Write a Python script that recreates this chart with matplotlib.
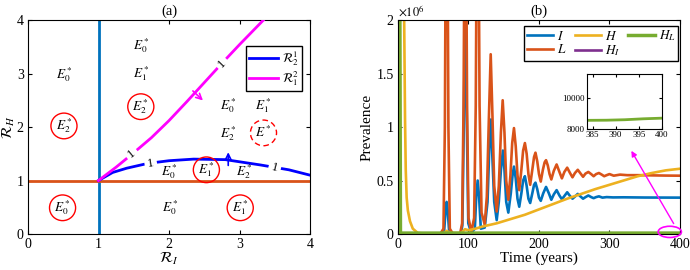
import matplotlib
matplotlib.use('Agg')
import matplotlib.pyplot as plt
from matplotlib.patches import Ellipse

plt.rcParams['font.family'] = ['Liberation Serif', 'DejaVu Serif']
plt.rcParams['mathtext.fontset'] = 'stix'

# Colors (MATLAB defaults)
C_I = '#0072BD'
C_L = '#D95319'
C_H = '#EDB120'
C_HI = '#7E2F8E'
C_HL = '#77AC30'
MAG = '#FF00FF'
BLUE = '#0000FF'

# ---- panel (a): threshold curves ----
mag_x = [1.0, 1.25, 1.5, 1.75, 2.0, 2.25, 2.5, 2.75, 3.0, 3.34]
mag_y = [1.0, 1.25, 1.52, 1.80, 2.12, 2.47, 2.83, 3.19, 3.54, 4.0]
blue_x = [1.0, 1.2, 1.4, 1.7, 2.0, 2.35, 2.8, 3.3, 3.7, 4.0]
blue_y = [1.0, 1.15, 1.23, 1.32, 1.37, 1.40, 1.39, 1.29, 1.20, 1.10]

plain_labels = [(1.61, 3.53, '$E_0^*$'), (1.61, 2.99, '$E_1^*$'), (0.51, 2.97, '$E_0^*$'),
                (2.85, 2.39, '$E_0^*$'), (3.34, 2.39, '$E_1^*$'), (2.85, 1.87, '$E_2^*$'),
                (2.01, 1.16, '$E_0^*$'), (3.07, 1.16, '$E_2^*$'), (2.02, 0.49, '$E_0^*$')]
circled_labels = [(1.60, 2.38, '$E_2^*$'), (0.51, 2.02, '$E_2^*$'), (2.53, 1.20, '$E_1^*$'),
                  (0.49, 0.49, '$E_0^*$'), (3.01, 0.49, '$E_1^*$')]
dashed_label = (3.34, 1.89, '$E^*$')

# contour-like "1" labels: x, y, angle
mag_marks = [(1.47, 1.50, 39), (2.75, 3.19, 46)]
blue_marks = [(1.74, 1.325, 9), (3.5, 1.245, -14)]

# ---- panel (b): prevalence (units of 1e6) ----
L_t = [0, 60, 64.5, 66.5, 67.6, 70.4, 71.5, 73.5, 78, 88, 91, 93, 94.2, 96.8, 98, 100, 104,
       108, 110.3, 111.5, 114.5, 115.7, 118.5, 123, 126, 129, 131.5, 134, 136.5, 140,
       143, 146, 148.5, 151, 153.5, 156.5, 159.5, 162, 164.5, 167, 169.5, 172,
       175, 177.5, 180, 182.5, 185, 187.5, 190.5, 193, 195, 197.5, 200, 202.5,
       205.5, 208, 210, 212.5, 215, 217.5, 221, 225, 229, 232.5, 236, 240, 244, 247.5,
       251, 255, 259, 262.5, 266, 270, 274, 277.5, 281, 285, 289, 292.5, 296, 300, 306,
       315, 325, 340, 360, 380, 400]
L_v = [0.0, 0.0, 0.05, 1.0, 2.6, 2.6, 1.0, 0.05, 0.0, 0.0, 0.1, 1.2, 2.6, 2.6, 1.2, 0.15, 0.02,
       0.15, 1.2, 2.6, 2.6, 1.2, 0.2, 0.09, 0.35, 1.1, 1.68, 1.1, 0.45, 0.21,
       0.45, 0.95, 1.25, 0.95, 0.5, 0.32, 0.55, 0.85, 0.99, 0.82, 0.55, 0.41,
       0.6, 0.78, 0.85, 0.75, 0.56, 0.46, 0.6, 0.72, 0.76, 0.68, 0.56, 0.49,
       0.6, 0.67, 0.69, 0.64, 0.56, 0.51, 0.59, 0.65, 0.58, 0.52, 0.58, 0.62, 0.57, 0.53,
       0.57, 0.60, 0.565, 0.535, 0.565, 0.58, 0.56, 0.54, 0.56, 0.57, 0.555, 0.54, 0.55, 0.56, 0.545,
       0.555, 0.55, 0.55, 0.548, 0.546, 0.545]

I_t = [0, 62, 65.5, 67.5, 69, 70.5, 72.5, 80, 89, 91.3, 93.3, 95.5, 97.7, 99.7, 104,
       109, 111, 113, 115, 117.5, 123, 127, 129.5, 131.8, 134, 136.5, 140,
       143, 146, 148.8, 151, 153.5, 156.5, 160, 162.5, 164.5, 167, 169.5, 172,
       175, 177.5, 180, 182.5, 185, 187.5, 190.5, 193, 195, 197.5, 200, 202.5,
       206, 210, 214, 217.5, 221, 225, 229, 232.5, 236, 240, 244, 247.5,
       251, 255, 259, 262.5, 266, 270, 274, 277.5, 281, 285, 290, 296, 305, 320, 350, 400]
I_v = [0.0, 0.0, 0.03, 0.22, 0.3, 0.22, 0.03, 0.0, 0.0, 0.08, 1.0, 2.3, 1.0, 0.1, 0.01,
       0.05, 0.35, 0.5, 0.35, 0.05, 0.06, 0.3, 0.8, 1.07, 0.7, 0.3, 0.13,
       0.3, 0.6, 0.78, 0.6, 0.3, 0.2, 0.38, 0.55, 0.63, 0.52, 0.33, 0.255,
       0.38, 0.5, 0.54, 0.45, 0.33, 0.29, 0.38, 0.46, 0.48, 0.42, 0.34, 0.31,
       0.38, 0.44, 0.38, 0.32, 0.37, 0.41, 0.36, 0.325, 0.355, 0.39, 0.355, 0.33,
       0.35, 0.375, 0.35, 0.33, 0.345, 0.36, 0.345, 0.335, 0.345, 0.352, 0.34, 0.345, 0.342, 0.343, 0.341, 0.34]

H_t = [0, 8.5, 9.3, 10, 11, 12.3, 14, 17, 21, 28, 40, 64, 69, 74, 90, 95, 100,
       110, 120, 140, 160, 180, 200, 220, 240, 260, 280, 300, 320, 340, 360, 380, 400]
H_v = [2.5, 2.2, 1.6, 1.07, 0.6, 0.34, 0.22, 0.12, 0.05, 0.01, 0.003, 0.003, 0.03, 0.01, 0.01, 0.045, 0.035,
       0.05, 0.07, 0.10, 0.14, 0.18, 0.23, 0.28, 0.33, 0.375, 0.42, 0.46, 0.50, 0.54, 0.57, 0.595, 0.61]

HI_t = [0, 0.8, 400]
HI_v = [2.5, 0.0, 0.0]

HL_t = [0, 2.5, 3.5, 400]
HL_v = [2.5, 2.5, 0.0086, 0.0087]

# inset (raw counts)
ins_t = [383, 388, 392, 396, 400]
ins_v = [8550, 8560, 8590, 8650, 8690]

fig = plt.figure(figsize=(6.9, 2.7), dpi=100)
ax1 = fig.add_axes([0.0406, 0.1333, 0.4087, 0.7926])
ax2 = fig.add_axes([0.5768, 0.1333, 0.4087, 0.7926])

# ---------------- panel (a) ----------------
ax1.plot([1, 1], [0, 4], color=C_I, lw=2, zorder=2)
ax1.plot([0, 4], [1, 1], color=C_L, lw=2, zorder=2)
lb, = ax1.plot(blue_x, blue_y, color=BLUE, lw=2, zorder=3, label=r'$\mathcal{R}_2^1$')
lm, = ax1.plot(mag_x, mag_y, color=MAG, lw=2, zorder=3, label=r'$\mathcal{R}_1^2$')

for x, y, a in mag_marks + blue_marks:
    ax1.text(x, y, '1', rotation=a, rotation_mode='anchor', ha='center', va='center',
             fontsize=9, zorder=4,
             bbox=dict(boxstyle='square,pad=0.25', fc='white', ec='none'))

for x, y, s in plain_labels:
    ax1.text(x, y, s, ha='center', va='center', fontsize=9.5, zorder=5)
for x, y, s in circled_labels:
    ax1.text(x, y, s, ha='center', va='center', fontsize=9.5, zorder=5)
    ax1.add_patch(Ellipse((x, y), 0.37, 0.48, fill=False, ec='red', lw=1, zorder=5))
x, y, s = dashed_label
ax1.text(x, y, s, ha='center', va='center', fontsize=9.5, zorder=5)
ax1.add_patch(Ellipse((x, y), 0.37, 0.48, fill=False, ec='red', lw=1, ls=(0, (4, 2.5)), zorder=5))

ax1.annotate('', xy=(2.51, 2.46), xytext=(2.31, 2.71),
             arrowprops=dict(arrowstyle='->', color=MAG, lw=1.2, mutation_scale=10))
ax1.annotate('', xy=(2.84, 1.58), xytext=(2.84, 1.23),
             arrowprops=dict(arrowstyle='->', color=BLUE, lw=1.2, mutation_scale=10))

ax1.set_xlim(0, 4)
ax1.set_ylim(0, 4)
ax1.set_xticks([0, 1, 2, 3, 4])
ax1.set_yticks([0, 1, 2, 3, 4])
ax1.tick_params(direction='in', top=True, right=True, labelsize=10, length=3, pad=3)
ax1.set_xlabel(r'$\mathcal{R}_I$', fontsize=11, labelpad=0)
ax1.set_ylabel(r'$\mathcal{R}_H$', fontsize=11, labelpad=0)
ax1.set_title('(a)', fontsize=10.5, pad=4)
ax1.legend(handles=[lb, lm], loc='upper right', bbox_to_anchor=(0.972, 0.878), borderaxespad=0,
           fontsize=9, handlelength=2.3, handletextpad=0.3, borderpad=0.25, labelspacing=0.1,
           frameon=True, fancybox=False, edgecolor='black', framealpha=1)
for sp in ax1.spines.values():
    sp.set_linewidth(0.8)

# ---------------- panel (b) ----------------
lw = 1.9
hI, = ax2.plot(I_t, I_v, color=C_I, lw=lw, label='$I$')
hL, = ax2.plot(L_t, L_v, color=C_L, lw=lw, label='$L$')
hH, = ax2.plot(H_t, H_v, color=C_H, lw=lw, label='$H$')
hHI, = ax2.plot(HI_t, HI_v, color=C_HI, lw=lw, label='$H_I$')
hHL, = ax2.plot(HL_t, HL_v, color=C_HL, lw=lw + 0.6, label='$H_L$')

ax2.set_xlim(0, 400)
ax2.set_ylim(0, 2)
ax2.set_xticks([0, 100, 200, 300, 400])
ax2.set_yticks([0, 0.5, 1, 1.5, 2])
ax2.set_yticklabels(['0', '0.5', '1', '1.5', '2'])
ax2.tick_params(direction='in', top=True, right=True, labelsize=10, length=3, pad=3)
ax2.set_xlabel('Time (years)', fontsize=11, labelpad=0)
ax2.set_ylabel('Prevalence', fontsize=11, labelpad=2)
ax2.set_title('(b)', fontsize=10.5, pad=4)
ax2.text(0.0, 1.0, r'$\times10^6$', transform=ax2.transAxes, ha='left', va='bottom', fontsize=9)
ax2.legend(handles=[hI, hL, hH, hHI, hHL], ncol=3, loc='upper right', bbox_to_anchor=(0.993, 0.972),
           borderaxespad=0, fontsize=9.5, handlelength=2.0, handletextpad=0.3, columnspacing=0.6,
           borderpad=0.2, labelspacing=0.05, frameon=True, fancybox=False, edgecolor='black',
           framealpha=1)
for sp in ax2.spines.values():
    sp.set_linewidth(0.8)

ax2.add_patch(Ellipse((385.5, 0.02), 33, 0.105, fill=False, ec=MAG, lw=1.2, zorder=6, clip_on=False))
ax2.annotate('', xy=(329, 0.80), xytext=(393, 0.075),
             arrowprops=dict(arrowstyle='-|>', color=MAG, lw=1.0, mutation_scale=8))

axin = fig.add_axes([0.8507, 0.5222, 0.1087, 0.2037])
axin.plot(ins_t, ins_v, color=C_HL, lw=2)
axin.set_xlim(383.8, 400)
axin.set_ylim(8000, 11500)
axin.set_xticks([385, 390, 395, 400])
axin.set_yticks([8000, 10000])
axin.tick_params(direction='in', top=True, right=True, labelsize=6.5, length=2, pad=1.5)
for sp in axin.spines.values():
    sp.set_linewidth(0.8)

fig.savefig('out.png', dpi=100)
